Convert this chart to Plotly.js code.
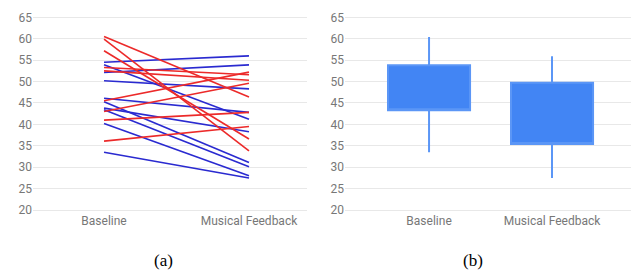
<!DOCTYPE html>
<html>
<head>
<meta charset="utf-8">
<script src="https://cdn.plot.ly/plotly-3.0.1.min.js"></script>
<style>html,body{margin:0;padding:0;background:#fff;}#chart{width:631px;height:271px;}</style>
</head>
<body>
<div id="chart"></div>
<script>
const categories = ['Baseline', 'Musical Feedback'];
const yTicks = [20, 25, 30, 35, 40, 45, 50, 55, 60, 65];

// Panel (a): per-participant paired values
const blueBaseline = [54.5, 52.1, 50.2, 53.9, 46.1, 45.3, 43.8, 43.4, 40.2, 33.5];
const blueFeedback = [56.0, 53.9, 48.3, 41.2, 42.8, 31.1, 38.3, 30.1, 28.0, 27.5];
const redBaseline  = [60.5, 59.9, 57.2, 53.3, 52.5, 45.5, 43.0, 41.0, 36.1];
const redFeedback  = [46.4, 33.8, 36.6, 51.6, 50.3, 52.2, 49.6, 42.8, 39.5];

// Panel (b): candlestick-like summary
const boxLow   = [33.5, 27.5];
const boxQ1    = [43.3, 35.4];
const boxQ3    = [53.8, 49.7];
const boxHigh  = [60.4, 55.9];

const traces = [];
function addLines(base, fb, color) {
  for (let i = 0; i < base.length; i++) {
    traces.push({
      type: 'scatter', mode: 'lines',
      x: categories, y: [base[i], fb[i]],
      xaxis: 'x', yaxis: 'y',
      line: {color: color, width: 1.6},
      showlegend: false, hoverinfo: 'skip'
    });
  }
}
addLines(blueBaseline, blueFeedback, '#2a2ad0');
addLines(redBaseline, redFeedback, '#ec2a2a');

traces.push({
  type: 'box',
  x: categories,
  q1: boxQ1, median: boxQ1, q3: boxQ3,
  lowerfence: boxLow, upperfence: boxHigh,
  xaxis: 'x2', yaxis: 'y2',
  width: 0.667,
  whiskerwidth: 0,
  fillcolor: '#4285f4',
  line: {color: '#5b96f6', width: 2},
  showlegend: false, hoverinfo: 'skip'
});

const font = {family: 'Roboto, sans-serif', size: 12, color: '#777777'};
const yCommon = {
  range: [19.5, 65.5], tickvals: yTicks, showgrid: true, gridcolor: '#e8e8e8', gridwidth: 1,
  zeroline: false, showline: false, ticks: '', tickfont: font, fixedrange: true,
  domain: [0.217, 0.944]
};
const xCommon = {
  type: 'category', showgrid: false, zeroline: false, showline: false, ticks: '',
  tickfont: font, fixedrange: true
};

const layout = {
  width: 631, height: 271,
  margin: {l: 0, r: 0, t: 0, b: 0},
  paper_bgcolor: '#ffffff', plot_bgcolor: '#ffffff',
  showlegend: false,
  xaxis: Object.assign({}, xCommon, {domain: [0.0523, 0.4865], anchor: 'y', range: [-0.49, 1.40]}),
  yaxis: Object.assign({}, yCommon, {anchor: 'x'}),
  xaxis2: Object.assign({}, xCommon, {domain: [0.5468, 1], anchor: 'y2', range: [-0.683, 1.642]}),
  yaxis2: Object.assign({}, yCommon, {anchor: 'x2'}),
  annotations: [
    {text: '(a)', xref: 'paper', yref: 'paper', x: 163/631, y: 1 - 260/271, xanchor: 'center', yanchor: 'middle',
     showarrow: false, font: {family: 'Liberation Serif, Times New Roman, serif', size: 17, color: '#000'}},
    {text: '(b)', xref: 'paper', yref: 'paper', x: 473/631, y: 1 - 260/271, xanchor: 'center', yanchor: 'middle',
     showarrow: false, font: {family: 'Liberation Serif, Times New Roman, serif', size: 17, color: '#000'}}
  ]
};

Plotly.newPlot('chart', traces, layout, {displayModeBar: false, staticPlot: true});
</script>
</body>
</html>
